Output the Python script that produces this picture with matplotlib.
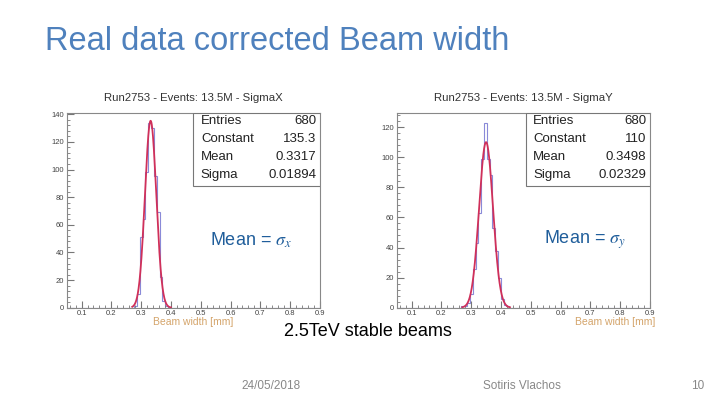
import numpy as np
import matplotlib
matplotlib.use("Agg")
import matplotlib.pyplot as plt
from matplotlib.ticker import MultipleLocator
from matplotlib.patches import Rectangle

plt.rcParams['font.family'] = ['Liberation Sans', 'DejaVu Sans']
plt.rcParams['mathtext.fontset'] = 'stix'

# histogram binning: 90 bins between 0.05 and 0.9 mm
n_bins = 90
x_lo, x_hi = 0.05, 0.9
first_bin = 23

# counts per bin, starting at bin index first_bin
counts_x = [0, 1, 10, 51, 64, 98, 134, 130, 95, 69, 22, 5, 1, 0]
counts_y = [1, 1, 3, 9, 26, 43, 63, 99, 123, 99, 88, 53, 38, 20, 6, 2, 1]

# gaussian fit results shown in the stat boxes
stat_names = ["Entries", "Constant", "Mean", "Sigma"]
stats_x = ["680", "135.3", "0.3317", "0.01894"]
stats_y = ["680", "110", "0.3498", "0.02329"]
fit_x = (135.3, 0.3317, 0.01894)
fit_y = (110.0, 0.3498, 0.02329)
fit_range_x = (0.27, 0.40)
fit_range_y = (0.27, 0.43)

titles = ["Run2753 - Events: 13.5M - SigmaX", "Run2753 - Events: 13.5M - SigmaY"]
mean_labels = [r"Mean = $\sigma_x$", r"Mean = $\sigma_y$"]


def full_counts(c):
    arr = np.zeros(n_bins)
    arr[first_bin:first_bin + len(c)] = c
    return arr


def draw_panel(ax, counts, fit, fit_range, stats, title, mean_label, box_left, label_x):
    edges = np.linspace(x_lo, x_hi, n_bins + 1)
    h = full_counts(counts)
    ax.stairs(h, edges, color="#8a8ad8", lw=0.8)
    const, mu, sig = fit
    xf = np.linspace(fit_range[0], fit_range[1], 300)
    ax.plot(xf, const * np.exp(-0.5 * ((xf - mu) / sig) ** 2), color="#d0305a", lw=1.3)

    ax.set_xlim(x_lo, x_hi)
    ax.set_ylim(0, h.max() * 1.05)
    ax.xaxis.set_major_locator(MultipleLocator(0.1))
    ax.xaxis.set_minor_locator(MultipleLocator(0.02))
    ax.yaxis.set_major_locator(MultipleLocator(20))
    ax.yaxis.set_minor_locator(MultipleLocator(4))
    ax.tick_params(which="both", direction="in", colors="#777", labelcolor="#444",
                   labelsize=5.5, top=False, right=False)
    ax.tick_params(which="major", length=5, pad=2)
    ax.tick_params(which="minor", length=2.5)
    for s in ax.spines.values():
        s.set_color("#888")
        s.set_linewidth(0.8)
    ax.set_title(title, fontsize=8.2, color="#333", pad=9)

    # stat box
    ax.add_patch(Rectangle((box_left, 0.628), 1 - box_left, 0.372, transform=ax.transAxes,
                           facecolor="white", edgecolor="#777", lw=0.8, zorder=5))
    for i, (name, val) in enumerate(zip(stat_names, stats)):
        yy = 0.958 - i * 0.092
        ax.text(box_left + 0.03, yy, name, transform=ax.transAxes, fontsize=9.5,
                va="center", ha="left", color="#222", zorder=6)
        ax.text(0.985, yy, val, transform=ax.transAxes, fontsize=9.5,
                va="center", ha="right", color="#222", zorder=6)

    ax.text(label_x, 0.348, mean_label, transform=ax.transAxes, fontsize=13,
            va="center", ha="left", color="#205e9b")


fig = plt.figure(figsize=(7.2, 4.05), dpi=100)
fig.patch.set_facecolor("white")

ax1 = fig.add_axes([0.0926, 0.2402, 0.3518, 0.48])
ax2 = fig.add_axes([0.551, 0.2402, 0.3518, 0.48])

draw_panel(ax1, counts_x, fit_x, fit_range_x, stats_x, titles[0], mean_labels[0], 0.5, 0.566)
draw_panel(ax2, counts_y, fit_y, fit_range_y, stats_y, titles[1], mean_labels[1], 0.509, 0.582)

# axis labels, ROOT style
fig.text(193 / 720, 1 - 322 / 405, "Beam width [mm]", fontsize=7.5, color="#d4a46a",
         ha="center", va="center")
fig.text(655 / 720, 1 - 322 / 405, "Beam width [mm]", fontsize=7.5, color="#d4a46a",
         ha="right", va="center")

# slide text
fig.text(45 / 720, 1 - 42 / 405, "Real data corrected Beam width", fontsize=23.5,
         color="#4f81bd", ha="left", va="center")
fig.text(368 / 720, 1 - 332 / 405, "2.5TeV stable beams", fontsize=13,
         color="black", ha="center", va="center")
fig.text(271 / 720, 1 - 386 / 405, "24/05/2018", fontsize=8.5, color="#888",
         ha="center", va="center")
fig.text(522 / 720, 1 - 386 / 405, "Sotiris Vlachos", fontsize=8.5, color="#888",
         ha="center", va="center")
fig.text(698 / 720, 1 - 386 / 405, "10", fontsize=8.5, color="#888",
         ha="center", va="center")

fig.savefig("out.png", dpi=100)
